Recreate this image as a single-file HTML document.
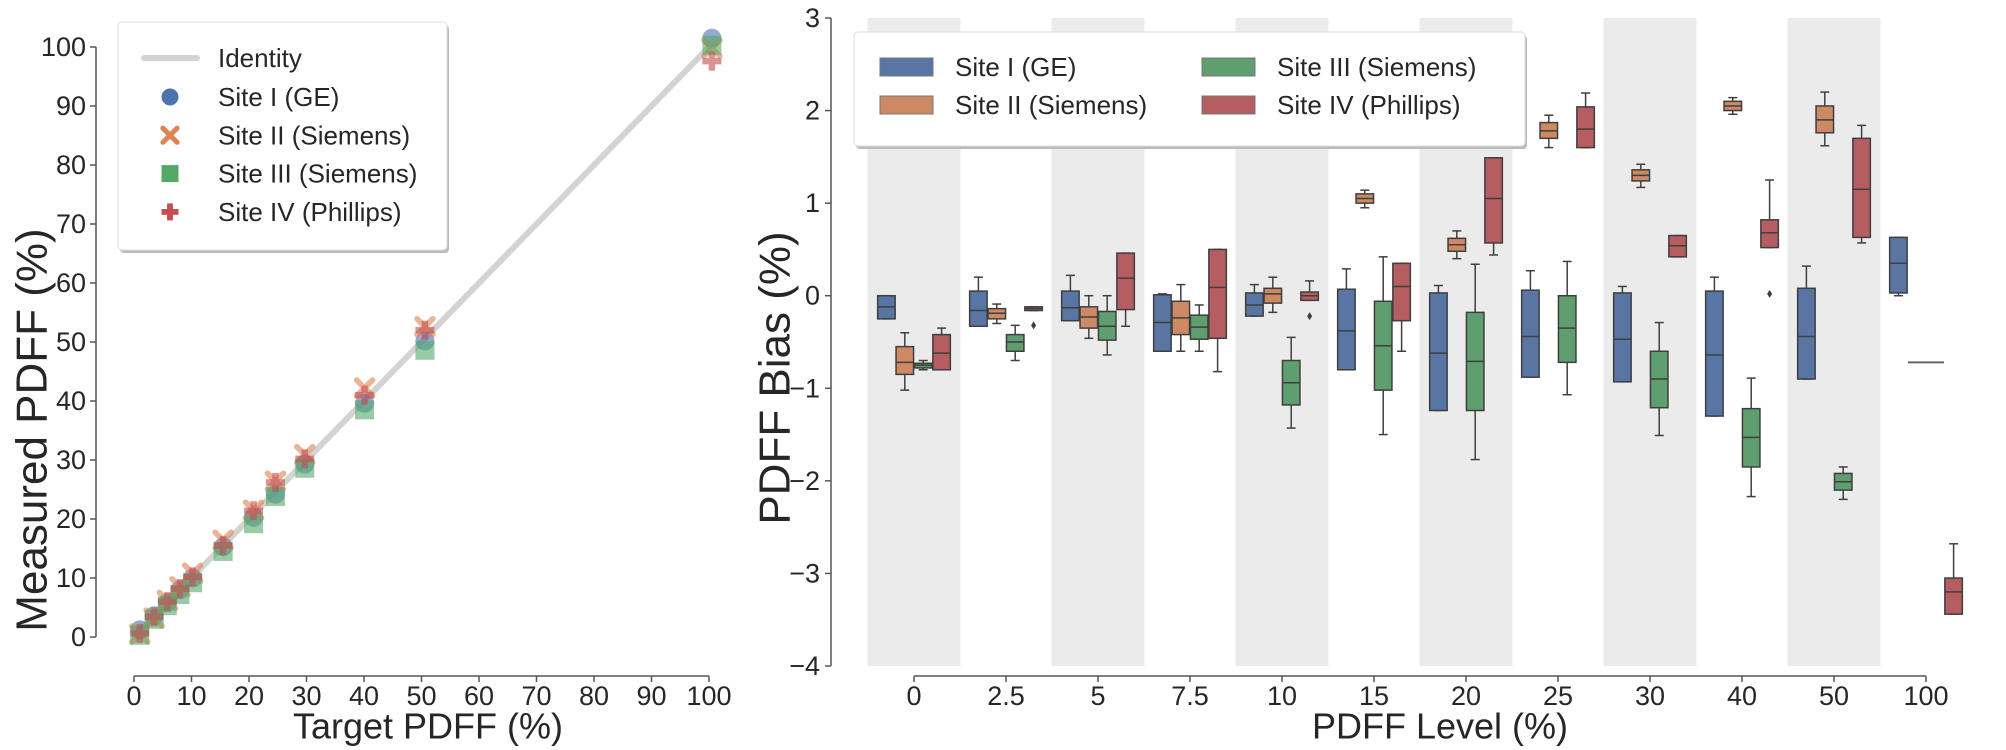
<!DOCTYPE html>
<html><head><meta charset="utf-8"><style>
html,body{margin:0;padding:0;background:#fff;}
svg{display:block;font-family:"Liberation Sans",Arial,sans-serif;}
</style></head><body>
<svg id="fig" width="2006" height="750" viewBox="0 0 2006 750" xmlns="http://www.w3.org/2000/svg">
<g id="left"></g>
<g id="right"></g>
</svg>
<script>
// ---------- Left scatter data ----------
const targets = [1, 3.5, 5.8, 8, 10.2, 15.5, 20.8, 24.6, 29.7, 40.1, 50.6, 100.5];
const siteI   = [1.2, 3.6, 5.8, 8, 10, 15.3, 20.3, 24.2, 29.3, 39.6, 50.2, 101.5];
const siteII  = [0.5, 3.2, 6.2, 8.5, 10.8, 16.4, 21.5, 26.4, 30.9, 42.2, 52.6, 99.8];
const siteIII = [0.3, 3, 5.3, 7.2, 9.2, 14.5, 19.2, 23.8, 28.6, 38.5, 48.6, 100.3];
const siteIV  = [0.6, 3.4, 6, 8.2, 10.2, 15.5, 21.4, 26.2, 30.2, 41, 52, 97.6];
const leftXTicks = [0,10,20,30,40,50,60,70,80,90,100];
const leftYTicks = [0,10,20,30,40,50,60,70,80,90,100];

// ---------- Right box data: [q1, median, q3, whiskerLow, whiskerHigh] ----------
const categories = ["0","2.5","5","7.5","10","15","20","25","30","40","50","100"];
const boxSiteI = [
 [-0.25,-0.12,0.0,-0.25,0.0],[-0.33,-0.16,0.05,-0.33,0.2],[-0.27,-0.13,0.05,-0.27,0.22],[-0.6,-0.29,0.01,-0.6,0.02],
 [-0.22,-0.1,0.03,-0.22,0.12],[-0.8,-0.38,0.07,-0.8,0.29],[-1.24,-0.62,0.03,-1.24,0.11],[-0.88,-0.44,0.06,-0.88,0.27],
 [-0.93,-0.47,0.03,-0.93,0.1],[-1.3,-0.64,0.05,-1.3,0.2],[-0.9,-0.44,0.08,-0.9,0.32],[0.03,0.35,0.63,0.0,0.63]];
const boxSiteII = [
 [-0.85,-0.72,-0.55,-1.02,-0.4],[-0.25,-0.19,-0.14,-0.3,-0.09],[-0.35,-0.23,-0.12,-0.46,0.0],[-0.42,-0.24,-0.06,-0.6,0.12],
 [-0.08,0.02,0.08,-0.18,0.2],[1.0,1.05,1.1,0.95,1.14],[0.48,0.55,0.62,0.4,0.7],[1.7,1.78,1.87,1.6,1.95],
 [1.24,1.3,1.36,1.17,1.42],[2.0,2.05,2.1,1.96,2.14],[1.76,1.9,2.05,1.62,2.2],null];
const boxSiteIII = [
 [-0.78,-0.75,-0.73,-0.8,-0.7],[-0.6,-0.5,-0.42,-0.7,-0.32],[-0.48,-0.33,-0.17,-0.64,0.0],[-0.47,-0.34,-0.21,-0.6,-0.1],
 [-1.18,-0.94,-0.7,-1.43,-0.45],[-1.02,-0.54,-0.06,-1.5,0.42],[-1.24,-0.71,-0.18,-1.77,0.34],[-0.72,-0.35,0.0,-1.07,0.37],
 [-1.21,-0.9,-0.6,-1.51,-0.29],[-1.85,-1.53,-1.22,-2.17,-0.89],[-2.1,-2.01,-1.92,-2.2,-1.85],null];
const boxSiteIV = [
 [-0.8,-0.62,-0.42,-0.8,-0.35],[-0.16,-0.14,-0.12,-0.16,-0.12],[-0.15,0.19,0.46,-0.33,0.46],[-0.46,0.09,0.5,-0.82,0.5],
 [-0.05,0.0,0.04,-0.05,0.16],[-0.27,0.1,0.35,-0.6,0.35],[0.57,1.05,1.49,0.44,1.49],[1.6,1.8,2.04,1.6,2.19],
 [0.42,0.54,0.65,0.42,0.65],[0.52,0.68,0.82,0.52,1.25],[0.63,1.15,1.7,0.57,1.84],[-3.44,-3.2,-3.05,-3.44,-2.68]];
const outliersIV = [[1,-0.32],[4,-0.22],[9,0.02]];
const flatLineValue = -0.72; // category 100 degenerate box
const rightYTicks = [-4,-3,-2,-1,0,1,2,3];

const NS="http://www.w3.org/2000/svg";
function mk(parent, tag, attrs){const e=document.createElementNS(NS,tag);for(const k in attrs)e.setAttribute(k,attrs[k]);parent.appendChild(e);return e;}
function txt(parent,x,y,s,size,anchor,extra){const t=mk(parent,'text',Object.assign({x:x,y:y,'font-size':size,'text-anchor':anchor||'middle',fill:'#262626','dominant-baseline':'central'},extra||{}));t.textContent=s;return t;}

// ---------- Left panel ----------
const L=document.getElementById('left');
const lx=v=>134+v*5.75, ly=v=>637-v*5.9;
let e;
e=mk(L,'line',{x1:lx(0),y1:ly(0),x2:lx(100),y2:ly(100),stroke:'#d3d3d3','stroke-width':6});

e=mk(L,'line',{x1:96,y1:47,x2:96,y2:637,stroke:'#555','stroke-width':1.5});

e=mk(L,'line',{x1:lx(0),y1:676,x2:lx(100),y2:676,stroke:'#555','stroke-width':1.5});

leftYTicks.forEach(v=>{mk(L,'line',{x1:90,y1:ly(v),x2:96,y2:ly(v),stroke:'#555','stroke-width':1.5});
 e=txt(L,86,ly(v),String(v),27,'end');});
leftXTicks.forEach(v=>{mk(L,'line',{x1:lx(v),y1:676,x2:lx(v),y2:682,stroke:'#555','stroke-width':1.5});
 e=txt(L,lx(v),696,String(v),27,'middle');});
e=txt(L,428,726,'Target PDFF (%)',36,'middle');
e=txt(L,0,0,'Measured PDFF (%)',44,'middle',{transform:'translate(32,430) rotate(-90)'});

function marker(g,kind,x,y,color,op,s){
 if(kind==='circle') return mk(g,'circle',{cx:x,cy:y,r:s*0.5,fill:color,opacity:op});
 if(kind==='square') return mk(g,'rect',{x:x-s/2,y:y-s/2,width:s,height:s,fill:color,opacity:op});
 if(kind==='x'){const gg=mk(g,'g',{opacity:op});const w=s*0.3;
  mk(gg,'line',{x1:x-s/2.4,y1:y-s/2.4,x2:x+s/2.4,y2:y+s/2.4,stroke:color,'stroke-width':w,'stroke-linecap':'round'});
  mk(gg,'line',{x1:x-s/2.4,y1:y+s/2.4,x2:x+s/2.4,y2:y-s/2.4,stroke:color,'stroke-width':w,'stroke-linecap':'round'});return gg;}
 if(kind==='plus'){const gg=mk(g,'g',{opacity:op});const w=s*0.34;
  mk(gg,'rect',{x:x-w/2,y:y-s/2,width:w,height:s,fill:color});mk(gg,'rect',{x:x-s/2,y:y-w/2,width:s,height:w,fill:color});return gg;}
}
const sites=[[siteI,'circle','#4c72b0','site-i-point'],[siteII,'x','#dd8452','site-ii-point'],[siteIII,'square','#55a868','site-iii-point'],[siteIV,'plus','#c44e52','site-iv-point']];
sites.forEach(s=>{s[0].forEach((v,i)=>{const m=marker(L,s[1],lx(targets[i]),ly(v),s[2],0.6,19);
 });});

// left legend
const LG=mk(L,'g',{});
mk(LG,'rect',{x:120,y:25,width:329,height:228,rx:4,fill:'#bbb'});
mk(LG,'rect',{x:118,y:22,width:329,height:228,rx:4,fill:'#fff',stroke:'#ddd','stroke-width':1});
mk(LG,'line',{x1:144,y1:58,x2:197,y2:58,stroke:'#d3d3d3','stroke-width':6,'stroke-linecap':'round'});
e=txt(LG,218,58,'Identity',26,'start');
const legNames=['Site I (GE)','Site II (Siemens)','Site III (Siemens)','Site IV (Phillips)'];
sites.forEach((s,i)=>{const yy=97+i*38.3;marker(LG,s[1],170,yy,s[2],1,17);
 e=txt(LG,218,yy,legNames[i],26,'start');});

// ---------- Right panel ----------
const R=document.getElementById('right');
const rx=i=>914+i*92, ry=v=>18+(3-v)*92.57;
categories.forEach((c,i)=>{if(i%2===0){e=mk(R,'rect',{x:rx(i)-46.5,y:ry(3),width:93,height:ry(-4)-ry(3),fill:'#ebebeb'});
 }});
e=mk(R,'line',{x1:831,y1:ry(3),x2:831,y2:ry(-4),stroke:'#555','stroke-width':1.5});

e=mk(R,'line',{x1:rx(0),y1:676,x2:rx(11),y2:676,stroke:'#555','stroke-width':1.5});

rightYTicks.forEach(v=>{mk(R,'line',{x1:825,y1:ry(v),x2:831,y2:ry(v),stroke:'#555','stroke-width':1.5});
 e=txt(R,820,ry(v),v<0?'\u2212'+Math.abs(v):String(v),27,'end');});
categories.forEach((c,i)=>{mk(R,'line',{x1:rx(i),y1:676,x2:rx(i),y2:682,stroke:'#555','stroke-width':1.5});
 e=txt(R,rx(i),696,c,27,'middle');});
e=txt(R,1440,726,'PDFF Level (%)',36,'middle');
e=txt(R,0,0,'PDFF Bias (%)',44,'middle',{transform:'translate(775,378) rotate(-90)'});

const boxSets=[[boxSiteI,'#5875a4',-27.6,'box-site-i'],[boxSiteII,'#cc8963',-9.2,'box-site-ii'],[boxSiteIII,'#5f9e6e',9.2,'box-site-iii'],[boxSiteIV,'#b55d60',27.6,'box-site-iv']];
const lc='#3f3f3f',bw=17.5;
boxSets.forEach(bs=>{bs[0].forEach((b,i)=>{if(!b)return;const cx=rx(i)+bs[2];
 const g=mk(R,'g',{});
 mk(g,'line',{x1:cx,y1:ry(b[2]),x2:cx,y2:ry(b[4]),stroke:lc,'stroke-width':1.5});
 mk(g,'line',{x1:cx,y1:ry(b[0]),x2:cx,y2:ry(b[3]),stroke:lc,'stroke-width':1.5});
 mk(g,'line',{x1:cx-4.5,y1:ry(b[4]),x2:cx+4.5,y2:ry(b[4]),stroke:lc,'stroke-width':1.5});
 mk(g,'line',{x1:cx-4.5,y1:ry(b[3]),x2:cx+4.5,y2:ry(b[3]),stroke:lc,'stroke-width':1.5});
 mk(g,'rect',{x:cx-bw/2,y:ry(b[2]),width:bw,height:Math.max(1,ry(b[0])-ry(b[2])),fill:bs[1],stroke:lc,'stroke-width':1.5});
 mk(g,'line',{x1:cx-bw/2,y1:ry(b[1]),x2:cx+bw/2,y2:ry(b[1]),stroke:lc,'stroke-width':1.5});
});});
outliersIV.forEach(o=>{e=mk(R,'path',{d:`M${rx(o[0])+27.6},${ry(o[1])-4} l2.5,4 l-2.5,4 l-2.5,-4z`,fill:lc});
 });
e=mk(R,'line',{x1:rx(11)-18,y1:ry(flatLineValue),x2:rx(11)+18,y2:ry(flatLineValue),stroke:'#666','stroke-width':2});


// right legend
const RG=mk(R,'g',{});
mk(RG,'rect',{x:856,y:35,width:671,height:114,rx:4,fill:'#bbb'});
mk(RG,'rect',{x:854,y:32,width:671,height:114,rx:4,fill:'#fff',stroke:'#ddd','stroke-width':1});
const legR=[['Site I (GE)','#5875a4',880,67],['Site II (Siemens)','#cc8963',880,105],['Site III (Siemens)','#5f9e6e',1202,67],['Site IV (Phillips)','#b55d60',1202,105]];
legR.forEach(l=>{mk(RG,'rect',{x:l[2],y:l[3]-9,width:53,height:18,fill:l[1],stroke:'#777','stroke-width':1});
 e=txt(RG,l[2]+75,l[3],l[0],26,'start');});
</script>
</body></html>
